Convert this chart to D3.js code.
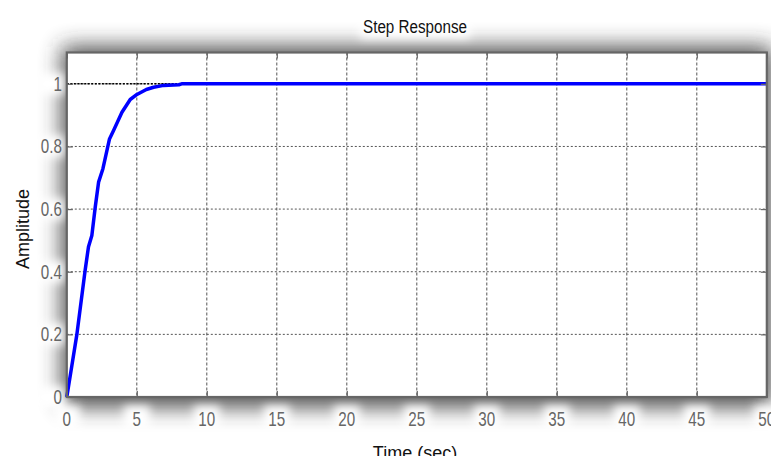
<!DOCTYPE html>
<html>
<head>
<meta charset="utf-8">
<script src="https://cdn.jsdelivr.net/npm/d3@7/dist/d3.min.js"></script>
<style>
  html, body { margin: 0; padding: 0; background: #ffffff; }
  svg { display: block; }
  .tick-label { font-family: "Liberation Sans", Arial, sans-serif; font-size: 20px; fill: #666666; }
  .axis-title { font-family: "Liberation Sans", Arial, sans-serif; font-size: 18px; fill: #111111; }
  .main-title { font-family: "Liberation Sans", Arial, sans-serif; font-size: 19px; fill: #111111; }
</style>
</head>
<body>
<svg id="chart" width="771" height="456"></svg>
<script>
// Step response samples (time in seconds, amplitude)
const timeSec = [0, 0.36, 0.72, 1.31, 1.55, 1.79, 2.03, 2.27, 2.58, 3.05, 3.34, 3.94, 4.53, 5.01, 5.68, 6.2, 6.92, 8.0, 8.2, 50];
const amplitude = [0, 0.1, 0.2, 0.405, 0.48, 0.516, 0.606, 0.686, 0.729, 0.824, 0.851, 0.909, 0.95, 0.966, 0.982, 0.989, 0.995, 0.997, 1.0, 1.0];
const steadyState = [1];
const xTicks = [0, 5, 10, 15, 20, 25, 30, 35, 40, 45, 50];
const yTicks = [0, 0.2, 0.4, 0.6, 0.8, 1];
const yTickLabels = ["0", "0.2", "0.4", "0.6", "0.8", "1"];

const svg = d3.select("#chart");
const plotL = 66.8, plotR = 766.8, plotT = 52.5, plotB = 397;
const narrow = 0.76; // horizontal squeeze for the condensed label face

const x = d3.scaleLinear().domain([0, 50]).range([plotL, plotR]);
const y = d3.scaleLinear().domain([0, 1.1]).range([plotB, plotT]);

const defs = svg.append("defs");
const shadow = defs.append("filter").attr("id", "shadow")
  .attr("x", "-20%").attr("y", "-30%").attr("width", "140%").attr("height", "160%");
shadow.append("feGaussianBlur").attr("stdDeviation", 11);
const halo = defs.append("filter").attr("id", "halo")
  .attr("x", "-100%").attr("y", "-100%").attr("width", "300%").attr("height", "300%");
halo.append("feGaussianBlur").attr("stdDeviation", 5);

// soft shadow around the axes box
svg.append("rect")
  .attr("x", plotL - 5).attr("y", plotT - 6)
  .attr("width", plotR - plotL + 10).attr("height", plotB - plotT + 16)
  .attr("fill", "#2e2e2e").attr("opacity", 0.85)
  .attr("filter", "url(#shadow)");

// white halos behind the labels
const haloG = svg.append("g").attr("filter", "url(#halo)").attr("fill", "#ffffff");
xTicks.forEach(t => haloG.append("rect").attr("x", x(t) - 13).attr("y", 406).attr("width", 26).attr("height", 24));
yTicks.forEach(t => haloG.append("rect").attr("x", 36).attr("y", y(t) - 11).attr("width", 28).attr("height", 22));
haloG.append("rect").attr("x", 360).attr("y", 14).attr("width", 110).attr("height", 24);
haloG.append("rect").attr("x", 10).attr("y", 180).attr("width", 24).attr("height", 100);
haloG.append("rect").attr("x", 365).attr("y", 440).attr("width", 100).attr("height", 30);

// plot background
svg.append("rect")
  .attr("x", plotL).attr("y", plotT)
  .attr("width", plotR - plotL).attr("height", plotB - plotT)
  .attr("fill", "#ffffff");

// grid lines
const grid = svg.append("g");
grid.selectAll(".vgrid").data(xTicks.slice(1, -1)).enter().append("line")
  .attr("x1", d => x(d)).attr("x2", d => x(d))
  .attr("y1", plotT).attr("y2", plotB)
  .attr("stroke", "#555555").attr("stroke-width", 1)
  .attr("stroke-dasharray", "3,2");
grid.selectAll(".hgrid").data(yTicks.slice(1)).enter().append("line")
  .attr("x1", plotL).attr("x2", plotR)
  .attr("y1", d => y(d)).attr("y2", d => y(d))
  .attr("stroke", "#555555").attr("stroke-width", 1)
  .attr("stroke-dasharray", "2,2");

// steady-state reference
svg.selectAll(".ss").data(steadyState).enter().append("line")
  .attr("x1", plotL).attr("x2", plotR)
  .attr("y1", d => y(d)).attr("y2", d => y(d))
  .attr("stroke", "#000000").attr("stroke-width", 1.5)
  .attr("stroke-dasharray", "2,1.5");

// response curve
const pts = timeSec.map((t, i) => [t, amplitude[i]]);
svg.append("path")
  .datum(pts)
  .attr("d", d3.line().x(d => x(d[0])).y(d => y(d[1])))
  .attr("fill", "none")
  .attr("stroke", "#0000ff")
  .attr("stroke-width", 3.5)
  .attr("stroke-linejoin", "round");

// axes box with inward ticks
const frameColor = "#666666";
const xAxisB = d3.axisBottom(x).tickValues(xTicks).tickSizeInner(-6).tickSizeOuter(0).tickFormat("");
const xAxisT = d3.axisTop(x).tickValues(xTicks).tickSizeInner(-6).tickSizeOuter(0).tickFormat("");
const yAxisL = d3.axisLeft(y).tickValues(yTicks).tickSizeInner(-6).tickSizeOuter(0).tickFormat("");
const yAxisR = d3.axisRight(y).tickValues(yTicks).tickSizeInner(-6).tickSizeOuter(0).tickFormat("");
[[xAxisB, `translate(0,${plotB})`], [xAxisT, `translate(0,${plotT})`],
 [yAxisL, `translate(${plotL},0)`], [yAxisR, `translate(${plotR},0)`]].forEach(([ax, tr]) => {
  const g = svg.append("g").attr("transform", tr).call(ax);
  g.selectAll("line").attr("stroke", frameColor).attr("stroke-width", 1.2);
  g.select(".domain").remove();
});
svg.append("rect")
  .attr("x", plotL).attr("y", plotT)
  .attr("width", plotR - plotL).attr("height", plotB - plotT)
  .attr("fill", "none").attr("stroke", frameColor).attr("stroke-width", 2.2);

// tick labels (condensed)
svg.selectAll(".xl").data(xTicks).enter().append("text")
  .attr("class", "tick-label")
  .attr("transform", d => `translate(${x(d)},426) scale(${narrow},1)`)
  .attr("text-anchor", "middle")
  .text(d => d);
svg.selectAll(".yl").data(yTicks).enter().append("text")
  .attr("class", "tick-label")
  .attr("transform", d => `translate(62,${y(d) + 7}) scale(${narrow},1)`)
  .attr("text-anchor", "end")
  .text((d, i) => yTickLabels[i]);

// titles
svg.append("text").attr("class", "main-title")
  .attr("transform", `translate(415,33) scale(${narrow + 0.04},1)`)
  .attr("text-anchor", "middle")
  .text("Step Response");
svg.append("text").attr("class", "axis-title")
  .attr("transform", "translate(29,229) rotate(-90)")
  .attr("text-anchor", "middle")
  .text("Amplitude");
svg.append("text").attr("class", "axis-title")
  .attr("x", 415).attr("y", 459).attr("text-anchor", "middle")
  .text("Time (sec)");
</script>
</body>
</html>
